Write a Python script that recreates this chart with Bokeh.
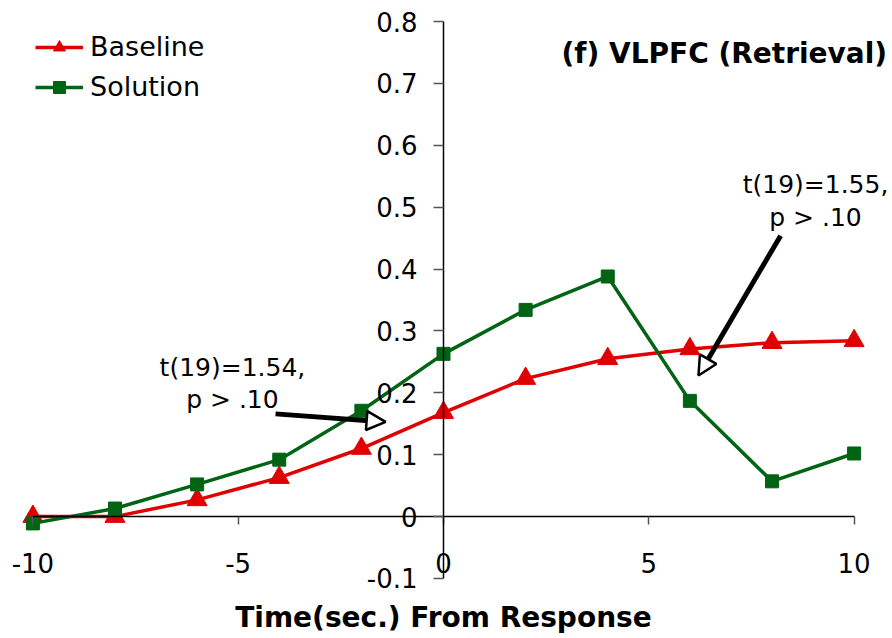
from bokeh.plotting import figure
from bokeh.models import Range1d, Arrow, NormalHead, Label, FixedTicker, Legend, LegendItem
from bokeh.embed import file_html
from bokeh.resources import INLINE

# Mean signal change over time, relative to the response
time_s = [-10, -8, -6, -4, -2, 0, 2, 4, 6, 8, 10]
baseline = [0.0, 0.0, 0.027, 0.063, 0.110, 0.168, 0.223, 0.255, 0.271, 0.281, 0.284]
solution = [-0.011, 0.013, 0.052, 0.092, 0.171, 0.263, 0.334, 0.388, 0.187, 0.057, 0.102]

x_ticks = [-10, -5, 0, 5, 10]
x_tick_labels = ["-10", "-5", "0", "5", "10"]
y_ticks = [-0.1, 0.0, 0.1, 0.2, 0.3, 0.4, 0.5, 0.6, 0.7, 0.8]
y_tick_labels = ["-0.1", "0", "0.1", "0.2", "0.3", "0.4", "0.5", "0.6", "0.7", "0.8"]

FONT = "DejaVu Sans"
RED = "#E00000"
GREEN = "#006414"

# the frame spans the whole canvas; the axes are bounded to the data extent
p = figure(width=892, height=638, output_backend="svg", toolbar_location=None,
           x_range=Range1d(-10.789, 10.935), y_range=Range1d(-0.197, 0.834),
           min_border=0)
p.grid.visible = False
p.outline_line_color = None
p.background_fill_color = "white"
p.border_fill_color = "white"

# axes cross at the origin
for ax, ticks, labels in ((p.xaxis[0], x_ticks, x_tick_labels), (p.yaxis[0], y_ticks, y_tick_labels)):
    ax.fixed_location = 0
    ax.bounds = (ticks[0], ticks[-1])
    ax.ticker = FixedTicker(ticks=ticks)
    ax.major_label_overrides = dict(zip(ticks, labels))
    ax.minor_tick_line_color = None
    ax.major_tick_in = 0
    ax.axis_line_color = "black"
    ax.axis_line_width = 1.5
    ax.major_tick_line_color = "#555555"
    ax.major_tick_line_width = 1.5
    ax.major_label_text_font = FONT
    ax.major_label_text_font_size = "26px"
    ax.major_label_text_color = "black"

p.xaxis.major_tick_out = 8
p.xaxis.major_label_standoff = 28
p.yaxis.major_tick_out = 10
p.yaxis.major_label_standoff = 16

p.xaxis.axis_label = "Time(sec.) From Response"
p.xaxis.axis_label_text_font = FONT
p.xaxis.axis_label_text_font_size = "28px"
p.xaxis.axis_label_text_font_style = "bold"
p.xaxis.axis_label_text_color = "black"
p.xaxis.axis_label_standoff = 25

r_bl = p.line(time_s, baseline, line_color=RED, line_width=3.5)
m_bl = p.scatter(time_s, baseline, marker="triangle", size=20, fill_color=RED, line_color=RED)
r_so = p.line(time_s, solution, line_color=GREEN, line_width=3.5)
m_so = p.scatter(time_s, solution, marker="square", size=13, fill_color=GREEN, line_color=GREEN)

legend = Legend(items=[LegendItem(label="Baseline", renderers=[r_bl, m_bl]),
                       LegendItem(label="Solution", renderers=[r_so, m_so])],
                location=(35, 536), border_line_color=None, background_fill_alpha=0,
                padding=0, margin=0, spacing=9, glyph_width=48, glyph_height=30,
                label_height=30, label_standoff=7, label_text_color="black",
                label_text_font=FONT, label_text_font_size="27px")
p.add_layout(legend)

p.add_layout(Label(x=10, y=0.8, x_offset=33, y_offset=-32, text="(f) VLPFC (Retrieval)",
                   text_align="right", text_baseline="middle", text_font=FONT, text_color="black",
                   text_font_size="28px", text_font_style="bold"))

# significance notes with pointers
notes = [(-5.14, 0.241, "t(19)=1.54,"), (-5.14, 0.189, "p > .10"),
         (9.06, 0.536, "t(19)=1.55,"), (9.06, 0.483, "p > .10")]
for nx, ny, txt in notes:
    p.add_layout(Label(x=nx, y=ny, text=txt, text_align="center", text_baseline="middle",
                       text_font=FONT, text_font_size="25px", text_color="black"))

for xs, ys, xe, ye in ((-4.09, 0.166, -1.41, 0.153), (8.21, 0.454, 6.21, 0.228)):
    p.add_layout(Arrow(x_start=xs, y_start=ys, x_end=xe, y_end=ye, line_width=5, line_color="black",
                       end=NormalHead(size=19, fill_color="white", line_color="black", line_width=2.5)))

open("out.html", "w").write(file_html(p, INLINE))
